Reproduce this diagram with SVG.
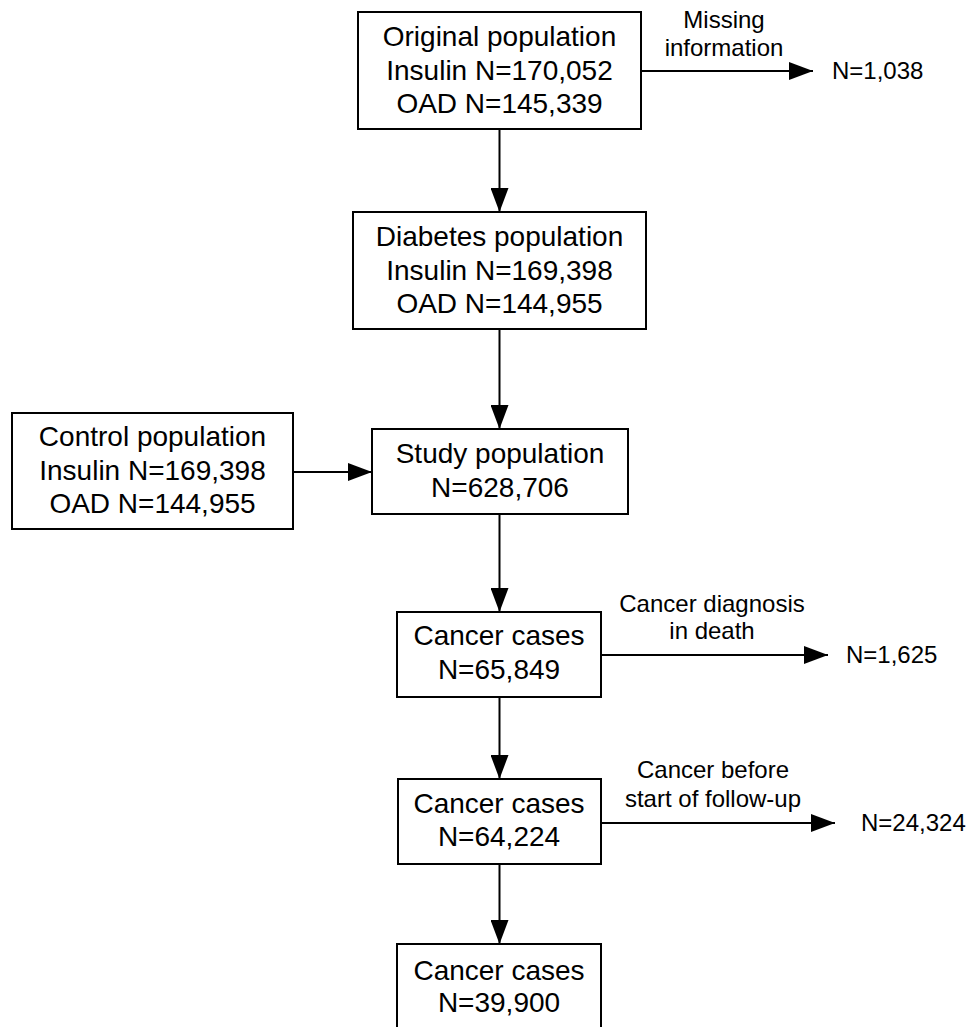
<svg xmlns="http://www.w3.org/2000/svg" width="966" height="1027" viewBox="0 0 966 1027">
<style>
.box{fill:#fff;stroke:#000;stroke-width:2}
.t{font-family:"Liberation Sans",Arial,sans-serif;font-size:28px;fill:#000;text-anchor:middle}
.l{font-family:"Liberation Sans",Arial,sans-serif;font-size:24px;fill:#000;text-anchor:middle}
.n{font-family:"Liberation Sans",Arial,sans-serif;font-size:24px;fill:#000;text-anchor:start}
.c{stroke:#000;stroke-width:2;fill:none;marker-end:url(#ah)}
</style>
<defs>
<marker id="ah" markerUnits="userSpaceOnUse" markerWidth="24" markerHeight="18" refX="24" refY="9" orient="auto">
<path d="M0,0 L24,9 L0,18 z" fill="#000"/>
</marker>
</defs>
<rect width="966" height="1027" fill="#fff"/>
<g id="connectors">
<line class="c" x1="641" y1="71" x2="813" y2="71"/>
<line class="c" x1="499.5" y1="129" x2="499.5" y2="212"/>
<line class="c" x1="499.5" y1="329" x2="499.5" y2="429"/>
<line class="c" x1="293" y1="472" x2="372" y2="472"/>
<line class="c" x1="499.5" y1="514" x2="499.5" y2="612"/>
<line class="c" x1="601" y1="655" x2="828" y2="655"/>
<line class="c" x1="499.5" y1="697" x2="499.5" y2="779"/>
<line class="c" x1="601" y1="823" x2="835" y2="823"/>
<line class="c" x1="499.5" y1="864" x2="499.5" y2="944"/>
</g>
<g id="label-missing">
<text class="l" x="724" y="28">Missing</text>
<text class="l" x="724" y="56">information</text>
<text class="n" x="832" y="79">N=1,038</text>
</g>
<g id="label-death">
<text class="l" x="712" y="612">Cancer diagnosis</text>
<text class="l" x="712" y="639">in death</text>
<text class="n" x="846" y="663">N=1,625</text>
</g>
<g id="label-before">
<text class="l" x="713" y="778">Cancer before</text>
<text class="l" x="713" y="807">start of follow-up</text>
<text class="n" x="861" y="831">N=24,324</text>
</g>
<g id="original">
<rect class="box" x="358" y="12" width="283" height="117"/>
<text class="t" x="499.5" y="46">Original population</text>
<text class="t" x="499.5" y="80">Insulin N=170,052</text>
<text class="t" x="499.5" y="113">OAD N=145,339</text>
</g>
<g id="diabetes">
<rect class="box" x="353" y="212" width="293" height="117"/>
<text class="t" x="499.5" y="246">Diabetes population</text>
<text class="t" x="499.5" y="280">Insulin N=169,398</text>
<text class="t" x="499.5" y="313">OAD N=144,955</text>
</g>
<g id="control">
<rect class="box" x="12" y="413" width="281" height="116"/>
<text class="t" x="152.5" y="446">Control population</text>
<text class="t" x="152.5" y="480">Insulin N=169,398</text>
<text class="t" x="152.5" y="513">OAD N=144,955</text>
</g>
<g id="study">
<rect class="box" x="372" y="429" width="256" height="85"/>
<text class="t" x="500" y="463">Study population</text>
<text class="t" x="500" y="497">N=628,706</text>
</g>
<g id="cancer1">
<rect class="box" x="397" y="612" width="204" height="85"/>
<text class="t" x="499" y="645">Cancer cases</text>
<text class="t" x="499" y="679">N=65,849</text>
</g>
<g id="cancer2">
<rect class="box" x="398" y="779" width="203" height="85"/>
<text class="t" x="499" y="813">Cancer cases</text>
<text class="t" x="499" y="846">N=64,224</text>
</g>
<g id="cancer3">
<rect class="box" x="397" y="944" width="204" height="100"/>
<text class="t" x="499" y="980">Cancer cases</text>
<text class="t" x="499" y="1012">N=39,900</text>
</g>
</svg>
